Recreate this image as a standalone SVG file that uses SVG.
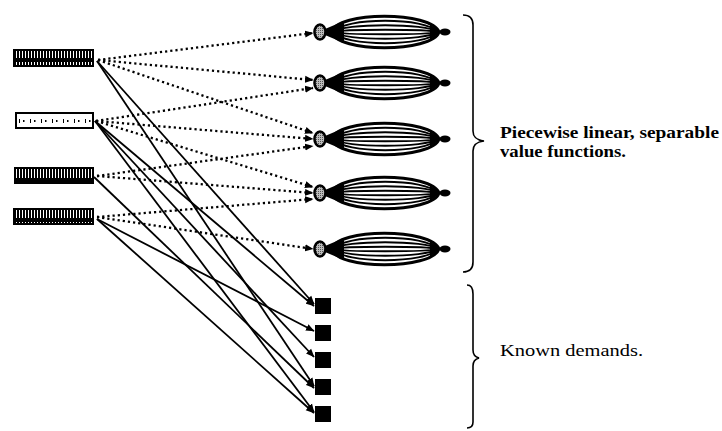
<svg xmlns="http://www.w3.org/2000/svg" xmlns:xlink="http://www.w3.org/1999/xlink" width="722" height="431" viewBox="0 0 722 431">
  <style>
    .src { stroke: #000; stroke-width: 2; }
    .dot { fill: none; stroke: #000; stroke-width: 2.3; stroke-dasharray: 2.2 3; marker-end: url(#ah); }
    .sol { fill: none; stroke: #000; stroke-width: 1.8; marker-end: url(#ah); }
    .dem { fill: #000; }
    .brace { fill: none; stroke: #000; stroke-width: 1.6; }
    .lbl { font-family: "Liberation Serif", "Times New Roman", serif; font-size: 17.5px; fill: #000; }
    .bold { font-weight: bold; }
  </style>
  <defs>
    <marker id="ah" markerUnits="userSpaceOnUse" markerWidth="9" markerHeight="8" refX="8" refY="4" orient="auto">
      <path d="M0,0.5 L8.5,4 L0,7.5 Z" fill="#000" stroke="none"/>
    </marker>
    <!-- dense dark fill of the source boxes -->
    <pattern id="bars" width="3" height="20" patternUnits="userSpaceOnUse">
      <rect width="3" height="20" fill="#000"/>
      <rect x="1" y="2" width="1" height="16" fill="#fff"/>
    </pattern>
    <!-- sparse light fill, aligned to the second box -->
    <pattern id="sparse" x="16" y="113" width="11" height="15" patternUnits="userSpaceOnUse">
      <rect width="11" height="15" fill="#fff"/>
      <rect x="3" y="6" width="1" height="4" fill="#000"/>
      <rect x="7" y="7" width="1.5" height="2" fill="#000"/>
    </pattern>
    <pattern id="stipple" width="2" height="2" patternUnits="userSpaceOnUse">
      <rect width="2" height="2" fill="#bbb"/>
      <rect width="1" height="1" fill="#555"/>
    </pattern>
    <!-- piecewise linear value function glyph, centred on y = 0 -->
    <g id="vfShape">
      <path d="M325,-3 L344,-11 L344,11 L325,3 Z" fill="#000"/>
      <path d="M332,0 C336,-21 432,-21 439,0 C432,21 336,21 332,0 Z" fill="#fff" stroke="#000" stroke-width="3"/>
      <g fill="none" stroke="#000" stroke-width="1.8">
        <path d="M334,0 C342,-15 428,-15 437,0"/>
        <path d="M334,0 C342,15 428,15 437,0"/>
        <path d="M334,0 C342,-9 428,-9 437,0"/>
        <path d="M334,0 C342,9 428,9 437,0"/>
        <path d="M334,0 C342,-3 428,-3 437,0"/>
        <path d="M334,0 C342,3 428,3 437,0"/>
      </g>
      <path d="M332,-4 L344,-11 L344,11 L332,4 Z" fill="#000"/>
      <path d="M440,0 L430,-8 L430,8 Z" fill="#000"/>
      <ellipse cx="445" cy="0" rx="5.5" ry="3.4" fill="#000"/>
      <ellipse cx="320" cy="0" rx="5.5" ry="7.5" fill="url(#stipple)" stroke="#000" stroke-width="2.6"/>
    </g>
  </defs>

  <rect width="722" height="431" fill="#fff"/>

  <!-- connectors -->
  <g id="connectors">
    <!-- dotted: sources to value functions -->
    <path class="dot" d="M98,60 L313,33"/>
    <path class="dot" d="M98,60 L313,80"/>
    <path class="dot" d="M98,60 L313,133"/>
    <path class="dot" d="M96,121 L313,88"/>
    <path class="dot" d="M96,121 L313,139"/>
    <path class="dot" d="M96,121 L313,187"/>
    <path class="dot" d="M97,176 L313,146"/>
    <path class="dot" d="M97,176 L313,193"/>
    <path class="dot" d="M97,217 L313,199"/>
    <path class="dot" d="M97,217 L313,249"/>
    <!-- solid: sources to known demands -->
    <path class="sol" d="M97,61 L314,304"/>
    <path class="sol" d="M97,61 L314,386"/>
    <path class="sol" d="M95,121 L314,306"/>
    <path class="sol" d="M95,121 L314,357"/>
    <path class="sol" d="M95,121 L314,412"/>
    <path class="sol" d="M94,177 L314,388"/>
    <path class="sol" d="M97,219 L314,331"/>
    <path class="sol" d="M97,219 L314,413"/>
  </g>

  <!-- source nodes -->
  <g id="src1"><rect class="src" x="14" y="50" width="79" height="16" fill="url(#bars)"/></g>
  <g id="src2"><rect class="src" x="16" y="113" width="77" height="15" fill="url(#sparse)"/></g>
  <g id="src3"><rect class="src" x="15" y="168" width="78" height="15" fill="url(#bars)"/></g>
  <g id="src4"><rect class="src" x="14" y="209" width="79" height="15" fill="url(#bars)"/></g>

  <!-- value function nodes -->
  <g id="vf1"><use href="#vfShape" xlink:href="#vfShape" y="32"/></g>
  <g id="vf2"><use href="#vfShape" xlink:href="#vfShape" y="83"/></g>
  <g id="vf3"><use href="#vfShape" xlink:href="#vfShape" y="139"/></g>
  <g id="vf4"><use href="#vfShape" xlink:href="#vfShape" y="193"/></g>
  <g id="vf5"><use href="#vfShape" xlink:href="#vfShape" y="249"/></g>

  <!-- known demand nodes -->
  <g id="dem1"><rect class="dem" x="315" y="298" width="16" height="16"/></g>
  <g id="dem2"><rect class="dem" x="315" y="325" width="16" height="16"/></g>
  <g id="dem3"><rect class="dem" x="315" y="352" width="16" height="16"/></g>
  <g id="dem4"><rect class="dem" x="315" y="379" width="16" height="16"/></g>
  <g id="dem5"><rect class="dem" x="315" y="406" width="16" height="16"/></g>

  <!-- braces and labels -->
  <g id="label-vf">
    <path class="brace" d="M463,15 C470,15 473,18 473,25 L473,131 C473,137 476,140 484,141 C476,142 473,145 473,151 L473,262 C473,269 470,272 463,272"/>
    <text class="lbl bold" x="500" y="138" textLength="219" lengthAdjust="spacingAndGlyphs">Piecewise linear, separable</text>
    <text class="lbl bold" x="500" y="157" textLength="126" lengthAdjust="spacingAndGlyphs">value functions.</text>
  </g>
  <g id="label-dem">
    <path class="brace" d="M467,285 C471,285 473,288 473,294 L473,350 C473,355 475,357 479,358 C475,359 473,361 473,366 L473,422 C473,426 471,428 467,428"/>
    <text class="lbl" x="500" y="356" textLength="143" lengthAdjust="spacingAndGlyphs">Known demands.</text>
  </g>
</svg>
